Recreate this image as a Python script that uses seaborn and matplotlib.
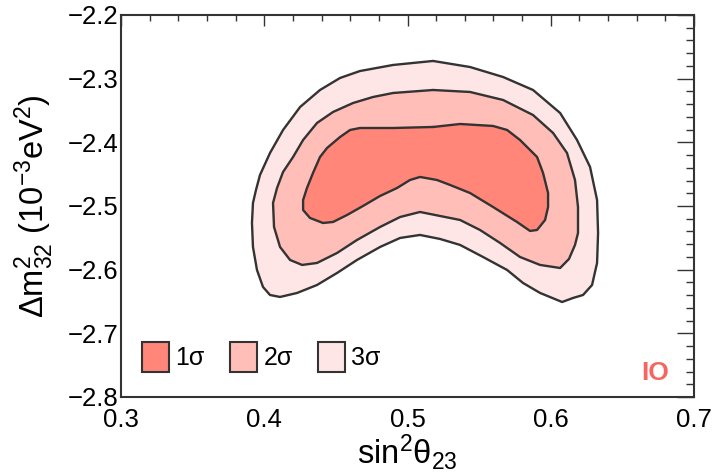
import pandas as pd
import seaborn as sns
import matplotlib.pyplot as plt
from matplotlib.patches import Patch

# contour boundaries (sin^2 theta23, dm2_32 in 1e-3 eV^2)
x_3s = [0.5178, 0.5436, 0.5667, 0.5876, 0.6065, 0.6183, 0.6274, 0.6323, 0.6330, 0.6323,
        0.6288, 0.6225, 0.6155, 0.6079, 0.5925, 0.5806, 0.5695, 0.5527, 0.5367, 0.5227,
        0.5087, 0.4948, 0.4808, 0.4647, 0.4508, 0.4368, 0.4229, 0.4110, 0.4040, 0.3991,
        0.3949, 0.3921, 0.3914, 0.3921, 0.3942, 0.3970, 0.4040, 0.4131, 0.4250, 0.4389,
        0.4529, 0.4668, 0.4899]
y_3s = [-2.2722, -2.2817, -2.2974, -2.3178, -2.3539, -2.3963, -2.4387, -2.4906, -2.5424, -2.5895,
        -2.6241, -2.6398, -2.6445, -2.6508, -2.6366, -2.6209, -2.6005, -2.5801, -2.5612, -2.5518,
        -2.5455, -2.5502, -2.5644, -2.5848, -2.6052, -2.6241, -2.6366, -2.6429, -2.6398, -2.6272,
        -2.6005, -2.5644, -2.5267, -2.4953, -2.4749, -2.4513, -2.4167, -2.3806, -2.3445, -2.3178,
        -2.2989, -2.2880, -2.2785]

x_2s = [0.5178, 0.5436, 0.5667, 0.5876, 0.6016, 0.6113, 0.6169, 0.6190, 0.6190, 0.6169,
        0.6127, 0.6065, 0.5925, 0.5785, 0.5646, 0.5506, 0.5367, 0.5227, 0.5087, 0.4948,
        0.4808, 0.4647, 0.4508, 0.4368, 0.4264, 0.4180, 0.4110, 0.4068, 0.4061, 0.4089,
        0.4131, 0.4201, 0.4271, 0.4368, 0.4480, 0.4620, 0.4759, 0.4899]
y_2s = [-2.3178, -2.3209, -2.3335, -2.3571, -2.3853, -2.4167, -2.4592, -2.5016, -2.5424, -2.5612,
        -2.5832, -2.5974, -2.5926, -2.5801, -2.5581, -2.5377, -2.5220, -2.5157, -2.5094, -2.5173,
        -2.5330, -2.5534, -2.5738, -2.5895, -2.5926, -2.5848, -2.5644, -2.5330, -2.4953, -2.4717,
        -2.4466, -2.4230, -2.3963, -2.3696, -2.3523, -2.3382, -2.3288, -2.3225]

x_1s = [0.5178, 0.5367, 0.5597, 0.5695, 0.5785, 0.5855, 0.5904, 0.5946, 0.5981, 0.5981,
        0.5960, 0.5904, 0.5855, 0.5764, 0.5597, 0.5436, 0.5297, 0.5206, 0.5087, 0.5017,
        0.4927, 0.4808, 0.4689, 0.4578, 0.4480, 0.4410, 0.4319, 0.4271, 0.4271, 0.4298,
        0.4340, 0.4389, 0.4438, 0.4529, 0.4599, 0.4668, 0.4899]
y_1s = [-2.3759, -2.3712, -2.3743, -2.3806, -2.3963, -2.4120, -2.4230, -2.4482, -2.4796, -2.5016,
        -2.5220, -2.5377, -2.5392, -2.5251, -2.5016, -2.4796, -2.4670, -2.4592, -2.4544, -2.4592,
        -2.4717, -2.4843, -2.5000, -2.5141, -2.5251, -2.5267, -2.5188, -2.5063, -2.4906, -2.4717,
        -2.4482, -2.4230, -2.4089, -2.3916, -2.3806, -2.3775, -2.3775]

levels = ['3σ', '2σ', '1σ']
fill_colors = {'1σ': '#FF8678', '2σ': '#FFBEB7', '3σ': '#FFE6E6'}
edge = '#333333'

sns.set_style('white')
plt.rcParams['font.family'] = ['Liberation Sans', 'DejaVu Sans']
plt.rcParams['mathtext.fontset'] = 'custom'
plt.rcParams['mathtext.rm'] = 'Liberation Sans'
plt.rcParams['mathtext.it'] = 'Liberation Sans'
plt.rcParams['mathtext.default'] = 'rm'
plt.rcParams['text.color'] = 'black'
plt.rcParams['axes.labelcolor'] = 'black'

frames = []
for name, xs, ys in [('3σ', x_3s, y_3s), ('2σ', x_2s, y_2s), ('1σ', x_1s, y_1s)]:
    df = pd.DataFrame({'s23': xs + xs[:1], 'dm32': ys + ys[:1], 'level': name})
    frames.append(df)
contours = pd.concat(frames, ignore_index=True)

fig = plt.figure(figsize=(7.17, 4.76), dpi=100)
ax = fig.add_axes([0.1688, 0.166, 0.7992, 0.8025])

for name in levels:
    sub = contours[contours['level'] == name]
    ax.fill(sub['s23'], sub['dm32'], color=fill_colors[name], lw=0)
    sns.lineplot(x='s23', y='dm32', data=sub, sort=False, estimator=None,
                 color=edge, lw=1.7, ax=ax, legend=False)

ax.set_xlim(0.3, 0.7)
ax.set_ylim(-2.8, -2.2)
ax.set_xticks([0.3, 0.4, 0.5, 0.6, 0.7])
ax.set_xticklabels(['0.3', '0.4', '0.5', '0.6', '0.7'])
ax.set_yticks([-2.8, -2.7, -2.6, -2.5, -2.4, -2.3, -2.2])
ax.set_yticklabels(['\u22122.8', '\u22122.7', '\u22122.6', '\u22122.5', '\u22122.4', '\u22122.3', '\u22122.2'])
ax.set_xticks([0.3 + 0.02 * i for i in range(21)], minor=True)
ax.set_yticks([-2.8 + 0.02 * i for i in range(31)], minor=True)

ax.tick_params(axis='both', which='both', direction='in', top=True, right=True,
               labelsize=18.5, color='#333333', width=1.0, labelcolor='black')
ax.tick_params(axis='y', which='major', length=12, pad=2)
ax.tick_params(axis='y', which='minor', length=5.5)
ax.tick_params(axis='x', which='major', length=8, pad=8)
ax.tick_params(axis='x', which='minor', length=4)
for sp in ax.spines.values():
    sp.set_color('#333333')
    sp.set_linewidth(1.5)

ax.set_xlabel(r'sin$^{2}\theta_{23}$', fontsize=23.5, labelpad=0)
ax.set_ylabel(r'$\Delta m^{2}_{32}$ (10$^{-3}$eV$^{2}$)', fontsize=23.5, labelpad=8)

handles = [Patch(facecolor=fill_colors[n], edgecolor=edge, lw=1.5) for n in ['1σ', '2σ', '3σ']]
ax.legend(handles, ['1σ', '2σ', '3σ'], ncol=3, loc='lower left', bbox_to_anchor=(0.036, 0.065),
          frameon=False, fontsize=18, handlelength=1.1, handleheight=1.5,
          handletextpad=0.25, columnspacing=1.0, borderpad=0, borderaxespad=0)

ax.text(0.932, 0.063, 'IO', transform=ax.transAxes, color='#F5675E', fontsize=19,
        fontweight='bold', ha='center', va='center')

fig.savefig('out.png', dpi=100)
